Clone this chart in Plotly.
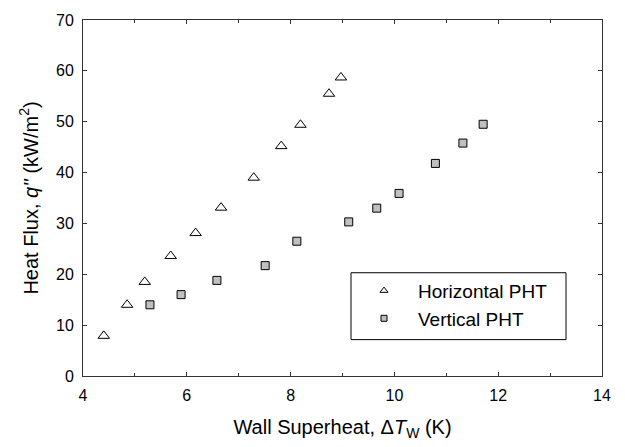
import plotly.graph_objects as go

# Data
horiz_x = [4.40, 4.85, 5.19, 5.69, 6.17, 6.66, 7.29, 7.82, 8.19, 8.74, 8.97]
horiz_y = [7.9, 14.0, 18.5, 23.6, 28.1, 33.1, 39.0, 45.2, 49.4, 55.5, 58.7]
vert_x = [5.29, 5.89, 6.58, 7.51, 8.12, 9.12, 9.66, 10.09, 10.79, 11.32, 11.71]
vert_y = [14.0, 16.0, 18.8, 21.7, 26.5, 30.3, 33.0, 35.9, 41.8, 45.8, 49.5]
series_names = ["Horizontal PHT", "Vertical PHT"]

FONT = "Liberation Sans, Arial, sans-serif"

fig = go.Figure()
fig.add_trace(go.Scatter(
    x=horiz_x, y=horiz_y, mode="markers", showlegend=False,
    marker=dict(symbol="triangle-up", size=10, color="white",
                line=dict(color="black", width=1))))
fig.add_trace(go.Scatter(
    x=vert_x, y=vert_y, mode="markers", showlegend=False,
    marker=dict(symbol="square", size=8, color="#c0c0c0",
                line=dict(color="black", width=1))))
# legend-only entries (smaller symbols as in reference)
fig.add_trace(go.Scatter(
    x=[None], y=[None], mode="markers", name=series_names[0], legendgroup="a",
    marker=dict(symbol="triangle-up", size=7, color="white",
                line=dict(color="black", width=1))))
fig.add_trace(go.Scatter(
    x=[None], y=[None], mode="markers", name=series_names[1], legendgroup="b",
    marker=dict(symbol="square", size=6, color="#c0c0c0",
                line=dict(color="black", width=1))))

axis_common = dict(
    showgrid=False, zeroline=False, showline=True, linecolor="#333333",
    linewidth=1, mirror="ticks", ticks="inside", ticklen=4, tickcolor="#333333",
    tickfont=dict(family=FONT, size=16, color="black"),
    ticklabelstandoff=5,
)

fig.update_xaxes(
    range=[4, 14], dtick=2, tick0=4,
    minor=dict(dtick=1, ticks="inside", ticklen=3, tickcolor="#333333"),
    title=dict(text="Wall Superheat, \u0394<i>T</i><sub>W</sub> (K)",
               font=dict(family=FONT, size=20, color="black"), standoff=16),
    **axis_common)
fig.update_yaxes(
    range=[0, 70], dtick=10,
    title=dict(text="Heat Flux, <i>q''</i> (kW/m<sup>2</sup>)",
               font=dict(family=FONT, size=20, color="black"), standoff=12),
    **axis_common)

fig.add_shape(type="rect", xref="paper", yref="paper",
              x0=(351 - 83) / 519, x1=(566 - 83) / 519,
              y0=(376 - 339) / 362, y1=(376 - 271) / 362,
              line=dict(color="black", width=1), fillcolor="rgba(0,0,0,0)")

fig.update_layout(
    width=625, height=447,
    margin=dict(l=83, r=23, t=14, b=71),
    plot_bgcolor="white", paper_bgcolor="white",
    font=dict(family=FONT, size=16, color="black"),
    legend=dict(x=(350 - 83) / 519, y=(376 - 270) / 362, xanchor="left", yanchor="top",
                bgcolor="rgba(0,0,0,0)", borderwidth=0,
                font=dict(family=FONT, size=19, color="black"),
                traceorder="grouped", tracegroupgap=0, itemwidth=58),
)

fig.write_html("out.html")
